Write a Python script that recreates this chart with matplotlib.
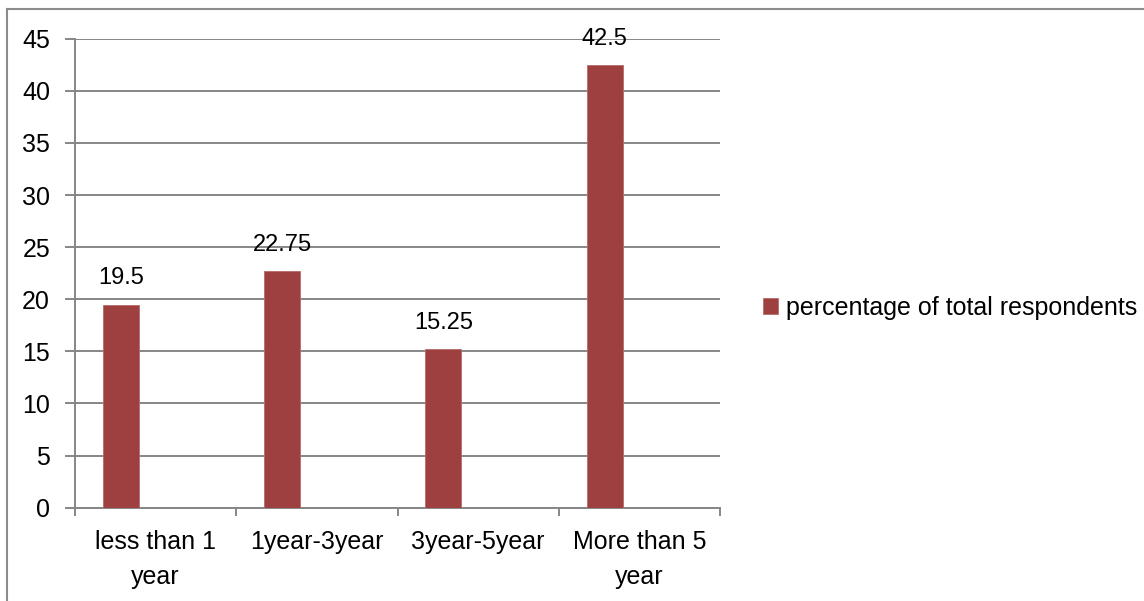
import matplotlib
matplotlib.use("Agg")
import matplotlib.pyplot as plt
from matplotlib.lines import Line2D
import numpy as np

categories = ["less than 1\nyear", "1year-3year", "3year-5year", "More than 5\nyear"]
values = [19.5, 22.75, 15.25, 42.5]
value_labels = ["19.5", "22.75", "15.25", "42.5"]
series_name = "percentage of total respondents"
yticks = [0, 5, 10, 15, 20, 25, 30, 35, 40, 45]

plt.rcParams['font.family'] = ['Liberation Sans', 'DejaVu Sans']

W, H = 1144, 601
fig = plt.figure(figsize=(W / 100, H / 100), dpi=100)
ax = fig.add_axes([75 / W, 1 - 507.7 / H, 645 / W, (507.7 - 38.8) / H])

FS = 18
bar_color = "#9E4040"
grid_color = "#868686"
x = np.arange(len(categories))
bw = 0.223
offset = -0.215
bars = ax.bar(x + offset, values, width=bw, color=bar_color, edgecolor="#B86A6A",
              linewidth=0.6, label=series_name, zorder=3)
for xi, v, lab in zip(x + offset, values, value_labels):
    ax.annotate(lab, (xi, v), xytext=(0, 14.5), textcoords="offset points",
                ha="center", va="baseline", fontsize=17, color="black", zorder=4)

ax.set_xlim(-0.5, len(categories) - 0.5)
ax.set_ylim(0, 45)
ax.set_yticks(yticks)
ax.set_yticklabels([str(t) for t in yticks], fontsize=FS)
ax.yaxis.grid(True, color=grid_color, linewidth=1.4, zorder=0)
ax.set_axisbelow(True)

ax.set_xticks(np.arange(-0.5, len(categories), 1.0))
ax.set_xticklabels([])
ax.set_xticks(x, minor=True)
ax.set_xticklabels(categories, minor=True, fontsize=FS, linespacing=1.6)
ax.tick_params(axis="x", which="major", length=6, width=1.4, color=grid_color, direction="out")
ax.tick_params(axis="x", which="minor", length=0, pad=16)
ax.tick_params(axis="y", length=7, width=1.4, color=grid_color, pad=11)

for s in ["top", "right"]:
    ax.spines[s].set_visible(False)
for s in ["left", "bottom"]:
    ax.spines[s].set_color(grid_color)
    ax.spines[s].set_linewidth(1.4)

leg = fig.legend(handles=[bars], labels=[series_name], loc="center left",
                 bbox_to_anchor=(763 / W, 1 - 308 / H), frameon=False,
                 borderpad=0, borderaxespad=0,
                 fontsize=FS, handlelength=0.6, handleheight=0.6, handletextpad=0.3)

# outer chart frame
fig.add_artist(Line2D([7 / W, 1.0], [1 - 9 / H, 1 - 9 / H], transform=fig.transFigure,
                      color="#8C8C8C", linewidth=1.5))
fig.add_artist(Line2D([7 / W, 7 / W], [0, 1 - 9 / H], transform=fig.transFigure,
                      color="#8C8C8C", linewidth=1.5))

fig.savefig("out.png", dpi=100)
